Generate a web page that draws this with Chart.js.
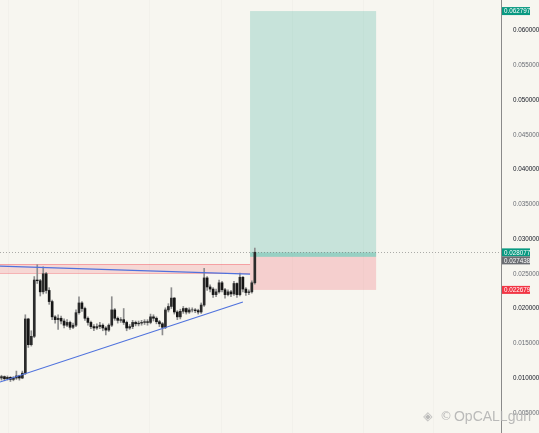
<!DOCTYPE html>
<html>
<head>
<meta charset="utf-8">
<script src="https://cdn.jsdelivr.net/npm/chart.js@4.4.1/dist/chart.umd.min.js"></script>
<style>
  html, body { margin: 0; padding: 0; background: #f7f6f0; }
  #wrap { width: 539px; height: 433px; position: relative; }
</style>
</head>
<body>
<div id="wrap"><canvas id="PriceChart" width="539" height="433"></canvas></div>
<script>
// candles (one bar every ~3px)
const opens = [0.0100,0.0102,0.0099,0.0101,0.0098,0.0100,0.0103,0.0100,0.0107,0.0185,
  0.0148,0.0160,0.0241,0.0240,0.0224,0.0250,0.0226,0.0210,0.0188,0.0184,
  0.0186,0.0182,0.0176,0.0180,0.0173,0.0176,0.0194,0.0208,0.0200,0.0186,
  0.0180,0.0174,0.0172,0.0174,0.0176,0.0172,0.0169,0.0176,0.0198,0.0186,
  0.0183,0.0184,0.0180,0.0172,0.0174,0.0180,0.0178,0.0179,0.0180,0.0181,
  0.0180,0.0188,0.0186,0.0181,0.0178,0.0173,0.0198,0.0203,0.0215,0.0195,
  0.0188,0.0196,0.0200,0.0195,0.0198,0.0198,0.0197,0.0195,0.0205,0.0244,
  0.0231,0.0228,0.0220,0.0224,0.0237,0.0227,0.0220,0.0224,0.0221,0.0236,
  0.0220,0.0245,0.0228,0.0223,0.0224,0.0237];
const closes = [0.0102,0.0099,0.0101,0.0098,0.0100,0.0103,0.0100,0.0107,0.0185,0.0148,
  0.0160,0.0241,0.0240,0.0224,0.0250,0.0226,0.0210,0.0188,0.0184,0.0186,
  0.0182,0.0176,0.0180,0.0173,0.0176,0.0194,0.0208,0.0200,0.0186,0.0180,
  0.0174,0.0172,0.0174,0.0176,0.0172,0.0169,0.0176,0.0198,0.0186,0.0183,
  0.0184,0.0180,0.0172,0.0174,0.0180,0.0178,0.0179,0.0180,0.0181,0.0180,
  0.0188,0.0186,0.0181,0.0178,0.0173,0.0198,0.0203,0.0215,0.0195,0.0188,
  0.0196,0.0200,0.0195,0.0198,0.0198,0.0197,0.0195,0.0205,0.0244,0.0231,
  0.0228,0.0220,0.0224,0.0237,0.0227,0.0220,0.0224,0.0221,0.0236,0.0220,
  0.0245,0.0228,0.0223,0.0224,0.0237,0.0281];
const highs = [0.0104,0.0103,0.0103,0.0102,0.0102,0.0110,0.0104,0.0110,0.0191,0.0186,
  0.0168,0.0246,0.0263,0.0242,0.0260,0.0252,0.0230,0.0212,0.0190,0.0191,
  0.0189,0.0185,0.0184,0.0182,0.0179,0.0198,0.0217,0.0210,0.0202,0.0188,
  0.0182,0.0177,0.0178,0.0180,0.0178,0.0174,0.0178,0.0217,0.0200,0.0188,
  0.0187,0.0200,0.0182,0.0177,0.0183,0.0182,0.0182,0.0183,0.0184,0.0184,
  0.0192,0.0191,0.0188,0.0183,0.0180,0.0201,0.0207,0.0230,0.0216,0.0197,
  0.0199,0.0203,0.0201,0.0201,0.0201,0.0200,0.0199,0.0208,0.0258,0.0246,
  0.0234,0.0230,0.0228,0.0241,0.0239,0.0229,0.0227,0.0226,0.0239,0.0237,
  0.0251,0.0246,0.0230,0.0227,0.0240,0.0287];
const lows = [0.0097,0.0096,0.0097,0.0095,0.0096,0.0098,0.0097,0.0099,0.0105,0.0144,
  0.0146,0.0158,0.0236,0.0218,0.0221,0.0222,0.0206,0.0184,0.0179,0.0170,
  0.0178,0.0172,0.0174,0.0170,0.0171,0.0174,0.0192,0.0196,0.0183,0.0176,
  0.0171,0.0168,0.0170,0.0171,0.0168,0.0162,0.0167,0.0174,0.0183,0.0179,
  0.0180,0.0177,0.0168,0.0170,0.0171,0.0175,0.0175,0.0176,0.0177,0.0176,
  0.0178,0.0182,0.0178,0.0174,0.0162,0.0171,0.0195,0.0200,0.0192,0.0184,
  0.0185,0.0193,0.0192,0.0193,0.0195,0.0194,0.0192,0.0193,0.0203,0.0226,
  0.0224,0.0216,0.0217,0.0222,0.0224,0.0215,0.0218,0.0217,0.0219,0.0216,
  0.0218,0.0224,0.0219,0.0220,0.0222,0.0235];

// drawings
const upperTrend = [{ x: -0.5, y: 0.02611 }, { x: 83.4, y: 0.02496 }];
const lowerTrend = [{ x: -0.5, y: 0.00942 }, { x: 81.0, y: 0.02094 }];
const resistanceZone = { from: -0.5, to: 83.4, low: 0.02511, high: 0.02640 };

// long position tool
const positionStart = 83.4;
const positionEnd = 125.7;
const targetPrice = 0.062797;
const entryPrice = 0.027438;
const stopPrice = 0.022679;
const lastPrice = 0.028077;

// price axis
const priceMin = 0.00209;
const priceMax = 0.06439;
const priceStep = 0.005;
const timeGridAt = [2.2, 26.0, 49.8, 73.7, 97.5, 121.3, 145.1];

const wickData = lows.map((lo, i) => ({ x: i, y: [lo, highs[i]] }));
const bodyData = opens.map((o, i) => ({ x: i, y: [o, closes[i]] }));

const GREEN = "#089981";
const RED = "#f23645";

function priceTag(ctx, x, y, text, bg) {
  ctx.fillStyle = bg;
  ctx.fillRect(x, y - 4, 28, 8);
  ctx.fillStyle = "#ffffff";
  ctx.font = "6.3px 'Liberation Sans', Arial, sans-serif";
  ctx.textAlign = "left";
  ctx.textBaseline = "middle";
  ctx.fillText(text, x + 2, y + 0.5);
}

const positionToolPlugin = {
  id: "positionTool",
  beforeDatasetsDraw(chart) {
    const { ctx, chartArea, scales: { x, y } } = chart;
    ctx.save();
    ctx.beginPath();
    ctx.rect(chartArea.left, chartArea.top, chartArea.width, chartArea.height);
    ctx.clip();

    // resistance zone
    const zx0 = x.getPixelForValue(resistanceZone.from);
    const zx1 = x.getPixelForValue(resistanceZone.to);
    const zy0 = y.getPixelForValue(resistanceZone.high);
    const zy1 = y.getPixelForValue(resistanceZone.low);
    ctx.fillStyle = "rgba(242,54,69,0.16)";
    ctx.fillRect(zx0, zy0, zx1 - zx0, zy1 - zy0);
    ctx.strokeStyle = "rgba(242,54,69,0.35)";
    ctx.lineWidth = 1;
    ctx.beginPath();
    ctx.moveTo(zx0, Math.round(zy0) + 0.5); ctx.lineTo(zx1, Math.round(zy0) + 0.5);
    ctx.moveTo(zx0, Math.round(zy1) + 0.5); ctx.lineTo(zx1, Math.round(zy1) + 0.5);
    ctx.stroke();

    // long position boxes
    const px0 = x.getPixelForValue(positionStart);
    const px1 = x.getPixelForValue(positionEnd);
    const yT = y.getPixelForValue(targetPrice);
    const yE = y.getPixelForValue(entryPrice);
    const yS = y.getPixelForValue(stopPrice);
    const yL = y.getPixelForValue(lastPrice);
    ctx.fillStyle = "rgba(8,153,129,0.2)";
    ctx.fillRect(px0, yT, px1 - px0, yE - yT);
    ctx.fillStyle = "rgba(8,153,129,0.25)";
    ctx.fillRect(px0, yL, px1 - px0, yE - yL);
    ctx.fillStyle = "rgba(242,54,69,0.2)";
    ctx.fillRect(px0, yE, px1 - px0, yS - yE);

    // last price dotted line
    ctx.strokeStyle = "rgba(110,110,110,0.55)";
    ctx.setLineDash([1, 2]);
    ctx.beginPath();
    ctx.moveTo(chartArea.left, Math.round(yL) + 0.5);
    ctx.lineTo(chartArea.right, Math.round(yL) + 0.5);
    ctx.stroke();
    ctx.restore();
  },
  afterDraw(chart) {
    const { ctx, chartArea, scales: { y } } = chart;
    ctx.save();
    const tags = [
      { v: targetPrice, bg: GREEN },
      { v: lastPrice, bg: GREEN },
      { v: entryPrice, bg: "#6a6d72" },
      { v: stopPrice, bg: RED },
    ].map(t => ({ ...t, py: y.getPixelForValue(t.v) }));
    // keep tags from overlapping
    for (let i = 1; i < tags.length; i++) {
      if (tags[i].py - tags[i - 1].py < 8) tags[i].py = tags[i - 1].py + 8;
    }
    tags.forEach(t => priceTag(ctx, chartArea.right + 1, t.py, t.v.toFixed(6), t.bg));

    // watermark
    ctx.fillStyle = "rgba(175,175,175,0.85)";
    ctx.font = "14px 'Liberation Sans', Arial, sans-serif";
    ctx.textAlign = "right";
    ctx.textBaseline = "middle";
    ctx.fillText("OpCALLgurl", 531, 417);
    ctx.font = "12px 'DejaVu Sans', sans-serif";
    ctx.fillText("\u25C8  \u00A9", 452, 417);
    ctx.restore();
  },
};

new Chart(document.getElementById("PriceChart"), {
  type: "bar",
  data: {
    datasets: [
      {
        type: "line",
        data: upperTrend,
        borderColor: "#4f72dd",
        borderWidth: 1.2,
        pointRadius: 0,
        order: 0,
      },
      {
        type: "line",
        data: lowerTrend,
        borderColor: "#4f72dd",
        borderWidth: 1.2,
        pointRadius: 0,
        order: 0,
      },
      {
        data: bodyData,
        backgroundColor: bodyData.map(d => (d.y[1] >= d.y[0] ? "#2b2b2b" : "#151515")),
        barThickness: 2,
        grouped: false,
        order: 1,
      },
      {
        data: wickData,
        backgroundColor: "#8d8d8d",
        barThickness: 1,
        grouped: false,
        order: 2,
      },
    ],
  },
  options: {
    responsive: false,
    animation: false,
    devicePixelRatio: 1,
    layout: { padding: 0 },
    plugins: {
      legend: { display: false },
      tooltip: { enabled: false },
    },
    scales: {
      x: {
        type: "linear",
        offset: false,
        min: -0.5,
        max: 167.6,
        afterBuildTicks(scale) {
          scale.ticks = timeGridAt.map(v => ({ value: v }));
        },
        afterFit(scale) {
          scale.height = 0;
          scale.paddingLeft = 0;
          scale.paddingRight = 0;
        },
        ticks: { display: false },
        grid: { color: "rgba(0,0,0,0.018)", drawTicks: false, offset: false },
        border: { display: false },
      },
      y: {
        position: "right",
        min: priceMin,
        max: priceMax,
        afterFit(scale) {
          scale.width = 38;
          scale.paddingTop = 0;
          scale.paddingBottom = 0;
        },
        ticks: {
          stepSize: priceStep,
          includeBounds: false,
          maxTicksLimit: 30,
          padding: 4,
          callback: v => v.toFixed(6),
          color: c => (Math.round(c.tick.value * 1000) % 10 === 0 ? "#131722" : "#6b6e75"),
          font: { family: "'Liberation Sans', Arial, sans-serif", size: 6.3 },
        },
        grid: { display: false },
        border: { color: "#8a8a8a", width: 1 },
      },
    },
  },
  plugins: [positionToolPlugin],
});
</script>
</body>
</html>
